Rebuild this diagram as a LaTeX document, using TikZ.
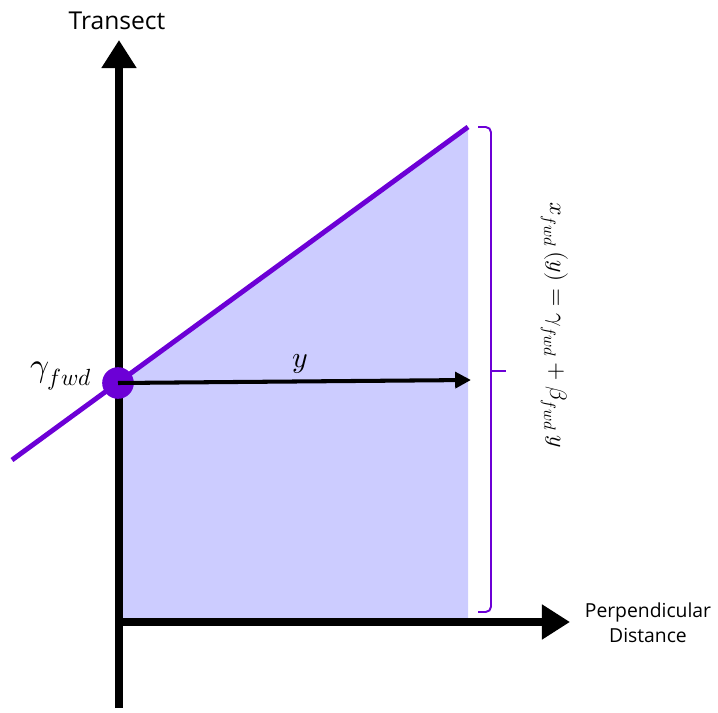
\documentclass[tikz,border=0pt]{standalone}
\usepackage{fontspec}
\setmainfont{Open Sans}
\usepackage{unicode-math}
\usetikzlibrary{arrows.meta,calc}
\definecolor{lineP}{RGB}{108,0,214}
\definecolor{fillP}{RGB}{204,204,255}
\tikzset{
  axis/.style={line width=5pt,-{Triangle[length=16pt,width=19pt]}},
  purp/.style={lineP,line width=2.8pt},
  lbl/.style={inner sep=0pt,font=\fontsize{14}{16}\selectfont},
}
\begin{document}
\begin{tikzpicture}[x=0.02cm,y=-0.02cm]
\useasboundingbox (0,0) rectangle (718,713);
% purple line end points
\coordinate (ls) at (12,460);
\coordinate (le) at (468,127);
% shaded area
\fill[fillP] ($(ls)!0.2412!(le)$) -- (le) -- (468,619) -- (119,619) -- cycle;
% axes
\coordinate (vb) at (119,708);
\coordinate (vt) at (119,40);
\coordinate (hl) at (119,622);
\coordinate (hr) at (570,622);
\draw[axis] (vb) -- (vt);
\draw[axis] (hl) -- (hr);
% purple line
\draw[purp] (ls) -- (le);
% dot and y arrow
\node[circle,fill=lineP,minimum size=18pt,inner sep=0pt] (dot) at (118,383) {};
\coordinate (ye) at (471,380);
\draw[line width=2.3pt,-{Triangle[length=9pt,width=9pt]}] (dot.center) -- (ye);
\node[lbl,font=\fontsize{17}{19}\selectfont] (ylab) at (300,364) {$y$};
\node[lbl,font=\fontsize{19}{21}\selectfont] (glab) at (61,376) {$\gamma_{fwd}$};
% brace
\coordinate (bt) at (478,127);
\coordinate (bb) at (478,612);
\coordinate (bm) at (506,371);
\draw[lineP,line width=1.1pt,rounded corners=3pt] (bt) -- (491,127) -- (491,612) -- (bb);
\draw[lineP,line width=1.1pt] (491,371) -- (bm);
\node[lbl,rotate=-90,font=\fontsize{13.5}{15}\selectfont] (eq) at (555,325) {$x_{fwd}\,(y) = \gamma_{fwd} + \beta_{fwd}\,y$};
% axis labels
\node[lbl] (tr) at (117,21) {Transect};
\node[lbl,font=\fontsize{11}{14.5}\selectfont,align=center] (pd) at (648,623) {Perpendicular\\Distance};
\end{tikzpicture}
\end{document}
